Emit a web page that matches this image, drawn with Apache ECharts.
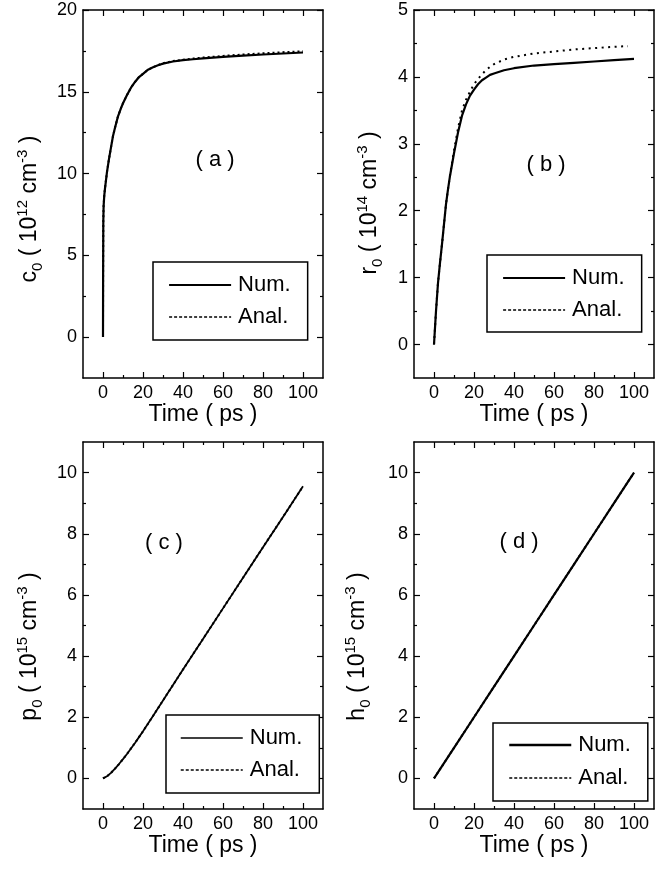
<!DOCTYPE html>
<html>
<head>
<meta charset="utf-8">
<script src="https://cdn.jsdelivr.net/npm/echarts@6/dist/echarts.min.js"></script>
<style>
html,body{margin:0;padding:0;background:#fff;}
#chart{width:672px;height:871px;}
</style>
</head>
<body>
<div id="chart"></div>
<script>
// ---------- data ----------
const timeA = [0, 0.05, 0.15, 0.3, 0.6, 1, 1.5, 2, 3, 4, 5, 6, 7.5, 9, 10, 12, 14, 16, 18, 20, 22.5, 25, 27.5, 30, 35, 40, 45, 50, 60, 70, 80, 90, 100];
const c0Num  = [0, 3.5, 7.0, 8.0, 8.6, 9.1, 9.6, 10.1, 10.9, 11.6, 12.3, 12.8, 13.5, 14.0, 14.3, 14.8, 15.25, 15.6, 15.9, 16.1, 16.35, 16.5, 16.62, 16.72, 16.85, 16.93, 16.99, 17.04, 17.13, 17.21, 17.28, 17.34, 17.4];
const c0Anal = [0, 3.5, 7.0, 8.0, 8.6, 9.1, 9.6, 10.1, 10.9, 11.6, 12.3, 12.8, 13.5, 14.0, 14.3, 14.8, 15.25, 15.6, 15.9, 16.1, 16.35, 16.5, 16.63, 16.74, 16.88, 16.96, 17.03, 17.09, 17.19, 17.28, 17.35, 17.42, 17.48];

const timeB = [0, 1, 2, 3, 4, 5, 6, 7, 8, 10, 12, 14, 16, 18, 20, 22, 24, 26, 28, 30, 35, 40, 50, 60, 70, 80, 90, 100];
const r0Num  = [0, 0.5, 0.92, 1.22, 1.5, 1.8, 2.1, 2.32, 2.52, 2.86, 3.17, 3.42, 3.59, 3.72, 3.81, 3.89, 3.95, 3.99, 4.03, 4.05, 4.1, 4.13, 4.17, 4.19, 4.21, 4.23, 4.25, 4.27];
const timeBA = [0, 1, 2, 3, 4, 5, 6, 7, 8, 10, 12, 14, 16, 18, 20, 22, 24, 26, 28, 30, 35, 40, 50, 60, 70, 80, 90, 97];
const r0Anal = [0, 0.5, 0.92, 1.22, 1.5, 1.8, 2.1, 2.32, 2.53, 2.9, 3.23, 3.5, 3.66, 3.78, 3.89, 3.97, 4.04, 4.1, 4.15, 4.19, 4.26, 4.3, 4.35, 4.38, 4.41, 4.43, 4.45, 4.46];

const timeC = [0, 2, 4, 6, 8, 10, 12, 14, 16, 18, 20, 25, 30, 40, 50, 60, 70, 80, 90, 100];
const p0Num  = [0, 0.07, 0.18, 0.32, 0.47, 0.63, 0.8, 0.98, 1.16, 1.35, 1.54, 2.04, 2.55, 3.56, 4.56, 5.56, 6.56, 7.56, 8.55, 9.55];
const p0Anal = [0, 0.07, 0.18, 0.32, 0.47, 0.63, 0.8, 0.98, 1.16, 1.35, 1.54, 2.04, 2.55, 3.56, 4.56, 5.56, 6.56, 7.56, 8.55, 9.55];

const timeD = [0, 10, 20, 30, 40, 50, 60, 70, 80, 90, 100];
const h0Num  = [0, 1, 2, 3, 4, 5, 6, 7, 8, 9, 10];
const h0Anal = [0, 1, 2, 3, 4, 5, 6, 7, 8, 9, 10];

const xMajorTicks = [0, 20, 40, 60, 80, 100];
const xMinorTicks = [10, 30, 50, 70, 90];
const yMajorA = [0, 5, 10, 15, 20];
const yMinorA = [2.5, 7.5, 12.5, 17.5];
const yMajorB = [0, 1, 2, 3, 4, 5];
const yMinorB = [0.5, 1.5, 2.5, 3.5, 4.5];
const yMajorCD = [0, 2, 4, 6, 8, 10];
const yMinorCD = [1, 3, 5, 7, 9];

const xTitle = 'Time ( ps )';
const legendNames = ['Num.', 'Anal.'];
const panelLabels = ['( a )', '( b )', '( c )', '( d )'];
const yTitles = [
  ['c', '0', '10', '12'],
  ['r', '0', '10', '14'],
  ['p', '0', '10', '15'],
  ['h', '0', '10', '15']
];

// ---------- layout / style ----------
const FONT = '"Liberation Sans", Arial, Helvetica, sans-serif';
const grids = [
  {left: 83, top: 10, width: 240, height: 368},
  {left: 414, top: 10, width: 240, height: 368},
  {left: 83, top: 442, width: 240, height: 367},
  {left: 414, top: 442, width: 240, height: 367}
];
const ranges = [
  {ymin: -2.5, ymax: 20, maj: yMajorA, min: yMinorA},
  {ymin: -0.5, ymax: 5, maj: yMajorB, min: yMinorB},
  {ymin: -1, ymax: 11, maj: yMajorCD, min: yMinorCD},
  {ymin: -1, ymax: 11, maj: yMajorCD, min: yMinorCD}
];
const yNamePad = [30, 18, 42, 42];
const yNameGap = [38, 29, 38, 41];

const xAxes = [], yAxes = [];
const mainX = [], mainY = [];
function tickAxis(base, values, len, showLine) {
  return Object.assign({
    type: 'value',
    axisLine: {show: showLine, onZero: false, lineStyle: {color: '#000', width: 1.5}},
    axisTick: {show: true, inside: true, length: len, customValues: values, lineStyle: {color: '#000', width: 1.2}},
    axisLabel: {show: false},
    splitLine: {show: false}
  }, base);
}
for (let g = 0; g < 4; g++) {
  const r = ranges[g];
  mainX.push(xAxes.length);
  xAxes.push(tickAxis({gridIndex: g, position: 'bottom', min: -10, max: 110,
    axisLabel: {show: true, customValues: xMajorTicks, margin: 6, fontSize: 18, color: '#000', fontFamily: FONT},
    name: xTitle, nameLocation: 'middle', nameGap: 25,
    nameTextStyle: {fontSize: 23, color: '#000', fontFamily: FONT}
  }, xMajorTicks, 6, true));
  xAxes.push(tickAxis({gridIndex: g, position: 'bottom', min: -10, max: 110}, xMinorTicks, 3, false));
  xAxes.push(tickAxis({gridIndex: g, position: 'top', min: -10, max: 110}, xMajorTicks, 6, true));
  xAxes.push(tickAxis({gridIndex: g, position: 'top', min: -10, max: 110}, xMinorTicks, 3, false));
  const t = yTitles[g];
  mainY.push(yAxes.length);
  yAxes.push(tickAxis({gridIndex: g, position: 'left', min: r.ymin, max: r.ymax,
    axisLabel: {show: true, customValues: r.maj, margin: 6, fontSize: 18, color: '#000', fontFamily: FONT},
    name: '{b|' + t[0] + '}{sub|' + t[1] + '}{b| ( ' + t[2] + '}{sup|' + t[3] + '}{b| cm}{sup|-3}{b| )}',
    nameLocation: 'middle', nameRotate: 90, nameGap: yNameGap[g],
    nameTextStyle: {
      fontSize: 23, color: '#000', fontFamily: FONT, padding: [0, yNamePad[g], 0, 0],
      rich: {
        b: {fontSize: 23, lineHeight: 30, color: '#000', fontFamily: FONT},
        sup: {fontSize: 15, lineHeight: 15, verticalAlign: 'top', color: '#000', fontFamily: FONT},
        sub: {fontSize: 15, lineHeight: 15, verticalAlign: 'bottom', color: '#000', fontFamily: FONT}
      }
    }
  }, r.maj, 6, true));
  yAxes.push(tickAxis({gridIndex: g, position: 'left', min: r.ymin, max: r.ymax}, r.min, 3, false));
  yAxes.push(tickAxis({gridIndex: g, position: 'right', min: r.ymin, max: r.ymax}, r.maj, 6, true));
  yAxes.push(tickAxis({gridIndex: g, position: 'right', min: r.ymin, max: r.ymax}, r.min, 3, false));
}

function zip(a, b) { return a.map((v, i) => [v, b[i]]); }
const panelData = [
  [zip(timeA, c0Num), zip(timeA, c0Anal)],
  [zip(timeB, r0Num), zip(timeBA, r0Anal)],
  [zip(timeC, p0Num), zip(timeC, p0Anal)],
  [zip(timeD, h0Num), zip(timeD, h0Anal)]
];
const numWidth = [2.2, 2.2, 1.8, 2.2];
const dotPattern = [[2, 3], [2, 4.5], [2, 3], [2, 3]];
const series = [];
const tags = ['a', 'b', 'c', 'd'];
for (let g = 0; g < 4; g++) {
  series.push({
    name: legendNames[0] + '#' + tags[g], type: 'line', xAxisIndex: mainX[g], yAxisIndex: mainY[g],
    data: panelData[g][0], symbol: 'none', silent: true, z: 3,
    lineStyle: {color: '#000', width: numWidth[g], type: 'solid'}
  });
  series.push({
    name: legendNames[1] + '#' + tags[g], type: 'line', xAxisIndex: mainX[g], yAxisIndex: mainY[g],
    data: panelData[g][1], symbol: 'none', silent: true, z: g < 2 ? 4 : 2,
    lineStyle: {color: '#000', width: 2, type: dotPattern[g]}
  });
}

const legendBoxes = [
  {left: 153, top: 262, padding: [12, 17, 12, 15], itemGap: 10},
  {left: 487, top: 255, padding: [12, 17, 11, 15], itemGap: 10},
  {left: 166, top: 715, padding: [12, 17, 12, 14], itemGap: 10},
  {left: 493, top: 723, padding: [11, 17, 12, 15], itemGap: 11}
];
const legendLineW = [2.2, 2.2, 1.5, 2.5];
const legends = legendBoxes.map((b, g) => ({
  orient: 'vertical', left: b.left, top: b.top, padding: b.padding, itemGap: b.itemGap,
  borderColor: '#000', borderWidth: 1.5, backgroundColor: '#fff',
  itemWidth: 62, itemHeight: 14, selectedMode: false,
  formatter: (name) => name.split('#')[0],
  textStyle: {fontSize: 22, lineHeight: 22, color: '#000', fontFamily: FONT, padding: [0, 0, 0, 2]},
  data: [
    {name: legendNames[0] + '#' + tags[g], itemStyle: {opacity: 0}, lineStyle: {width: legendLineW[g], type: 'solid', color: '#000'}},
    {name: legendNames[1] + '#' + tags[g], itemStyle: {opacity: 0}, lineStyle: {width: 1.5, type: [3, 2], color: '#000'}}
  ]
}));

const labelPos = [[215, 160], [546, 165], [164, 543], [519, 542]];
const graphics = labelPos.map((p, i) => ({
  type: 'text', x: p[0], y: p[1], silent: true,
  style: {text: panelLabels[i], fill: '#000', fontSize: 22, fontFamily: FONT, align: 'center', verticalAlign: 'middle'}
}));

const chart = echarts.init(document.getElementById('chart'), null, {renderer: 'canvas'});
chart.setOption({
  backgroundColor: '#fff',
  animation: false,
  grid: grids.map(g => Object.assign({containLabel: false}, g)),
  xAxis: xAxes,
  yAxis: yAxes,
  legend: legends,
  series: series,
  graphic: graphics
});
</script>
</body>
</html>
